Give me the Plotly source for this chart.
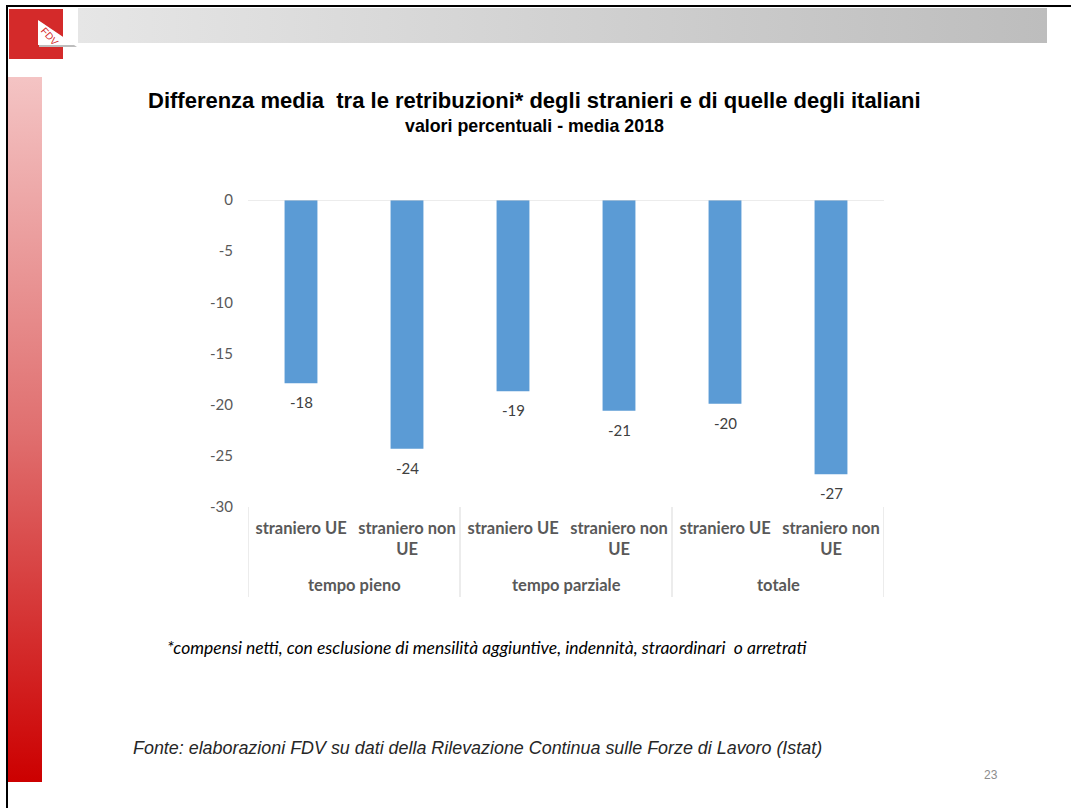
import base64
import plotly.graph_objects as go

# Data: average pay gap of foreign workers vs Italians (%), 2018
categorie = ["straniero UE", "straniero non<br>UE"] * 3
gruppi = ["tempo pieno", "tempo parziale", "totale"]
valori = [-17.9, -24.3, -18.7, -20.6, -19.9, -26.8]
y_ticks = [0, -5, -10, -15, -20, -25, -30]

BAR = "#5b9bd5"
GREY_TXT = "#595959"
GRID = "#d9d9d9"

W, H = 1071, 808
L, R, T, B = 248, 884, 200, 507
PW, PH = R - L, B - T


def svg_uri(svg):
    return "data:image/svg+xml;base64," + base64.b64encode(svg.encode()).decode()


grey_band = svg_uri(
    '<svg xmlns="http://www.w3.org/2000/svg" width="969" height="35" viewBox="0 0 969 35" preserveAspectRatio="none">'
    '<defs><linearGradient id="g" x1="0" y1="0" x2="1" y2="0">'
    '<stop offset="0" stop-color="#e6e6e6"/><stop offset="1" stop-color="#bdbdbd"/>'
    '</linearGradient></defs><rect width="969" height="35" fill="url(#g)"/></svg>'
)
red_band = svg_uri(
    '<svg xmlns="http://www.w3.org/2000/svg" width="34" height="705" viewBox="0 0 34 705" preserveAspectRatio="none">'
    '<defs><linearGradient id="r" x1="0" y1="0" x2="0" y2="1">'
    '<stop offset="0" stop-color="#f4c4c4"/><stop offset="0.5" stop-color="#e07070"/>'
    '<stop offset="1" stop-color="#cc0000"/>'
    '</linearGradient></defs><rect width="34" height="705" fill="url(#r)"/></svg>'
)

x_pos = list(range(len(valori)))

fig = go.Figure()
fig.add_trace(go.Bar(
    x=x_pos, y=valori, width=0.31, marker=dict(color=BAR, line=dict(width=0)),
    hoverinfo="skip", showlegend=False,
))


# page pixel -> paper (plot-area) coordinates
def px_x(px):
    return (px - L) / PW


def px_y(py):
    return (B - py) / PH


def page_text(x, y, text, font, xanchor="center", angle=0):
    return dict(x=px_x(x), y=px_y(y), xref="paper", yref="paper", text=text, showarrow=False,
                xanchor=xanchor, yanchor="middle", textangle=angle, font=font)


shapes = []
annotations = []

# zero line across the plot
shapes.append(dict(type="line", xref="paper", yref="y", x0=0, x1=1, y0=0, y1=0,
                   line=dict(color=GRID, width=1)))

# group dividers below the plot
for xd in [-0.5, 1.5, 3.5, 5.5]:
    shapes.append(dict(type="line", xref="x", yref="paper", x0=xd, x1=xd,
                       y0=px_y(597), y1=0, line=dict(color=GRID, width=1)))

# group labels
for i, g in enumerate(gruppi):
    annotations.append(dict(x=2 * i + 0.5, y=px_y(585), xref="x", yref="paper",
                            text=g, showarrow=False, xanchor="center", yanchor="middle",
                            font=dict(family="Lato", size=16.5, color=GREY_TXT, weight="bold")))

# value labels under each bar
for xi, v in zip(x_pos, valori):
    annotations.append(dict(x=xi, y=v, xref="x", yref="y", text=f"{round(v)}",
                            showarrow=False, xanchor="center", yanchor="middle", yshift=-19,
                            font=dict(family="Lato", size=15, color="#404040")))

# slide decorations: frame, logo
shapes += [
    dict(type="line", xref="paper", yref="paper", x0=px_x(6), x1=px_x(W), y0=px_y(6), y1=px_y(6),
         line=dict(color="#000000", width=2)),
    dict(type="line", xref="paper", yref="paper", x0=px_x(7), x1=px_x(7), y0=px_y(5), y1=px_y(H),
         line=dict(color="#000000", width=2)),
    dict(type="rect", xref="paper", yref="paper", x0=px_x(9), x1=px_x(63), y0=px_y(9), y1=px_y(59),
         fillcolor="#d42a2a", line=dict(width=0)),
    dict(type="path", xref="paper", yref="paper",
         path=f"M {px_x(39)},{px_y(21)} L {px_x(39)},{px_y(47)} L {px_x(77)},{px_y(47)} Z",
         fillcolor="#bdbdbd", line=dict(width=0)),
    dict(type="path", xref="paper", yref="paper",
         path=f"M {px_x(38)},{px_y(20)} L {px_x(38)},{px_y(45)} L {px_x(75)},{px_y(45)} Z",
         fillcolor="#ffffff", line=dict(width=0)),
]

images = [
    dict(source=grey_band, xref="paper", yref="paper", x=px_x(78), y=px_y(8),
         sizex=969 / PW, sizey=35 / PH, sizing="stretch", xanchor="left", yanchor="top", layer="below"),
    dict(source=red_band, xref="paper", yref="paper", x=px_x(8), y=px_y(77),
         sizex=34 / PW, sizey=705 / PH, sizing="stretch", xanchor="left", yanchor="top", layer="below"),
]

annotations += [
    page_text(50, 36, "FDV", dict(family="Liberation Sans", size=10, color="#d42a2a"), angle=48),
    page_text(534, 100, "Differenza media  tra le retribuzioni* degli stranieri e di quelle degli italiani",
              dict(family="Liberation Sans", size=22, color="#000000", weight="bold")),
    page_text(534, 126, "valori percentuali - media 2018",
              dict(family="Liberation Sans", size=17.8, color="#000000", weight="bold")),
    page_text(165, 647,
              "*compensi netti, con esclusione di mensilità aggiuntive, indennità, straordinari  o arretrati",
              dict(family="Lato", size=17.5, color="#000000", style="italic"), xanchor="left"),
    page_text(131, 748,
              "Fonte: elaborazioni FDV su dati della Rilevazione Continua sulle Forze di Lavoro (Istat)",
              dict(family="Liberation Sans", size=17.9, color="#262626", style="italic"), xanchor="left"),
    page_text(991, 775, "23", dict(family="Liberation Sans", size=12, color="#8c8c8c")),
]

fig.update_layout(
    width=W, height=H,
    margin=dict(l=L, r=W - R, t=T, b=H - B, pad=0),
    paper_bgcolor="#ffffff", plot_bgcolor="#ffffff",
    xaxis=dict(range=[-0.5, 5.5], tickvals=x_pos, ticktext=categorie, showgrid=False,
               zeroline=False, showline=False, ticks="", ticklabelstandoff=9,
               tickfont=dict(family="Lato", size=16.5, color=GREY_TXT, weight="bold")),
    yaxis=dict(range=[-30, 0], tickvals=y_ticks, ticktext=[str(t) for t in y_ticks],
               showgrid=False, zeroline=False, showline=False, ticks="", ticklabelstandoff=14,
               tickfont=dict(family="Lato", size=15, color=GREY_TXT)),
    shapes=shapes, annotations=annotations, images=images,
)

fig.write_html("out.html")
